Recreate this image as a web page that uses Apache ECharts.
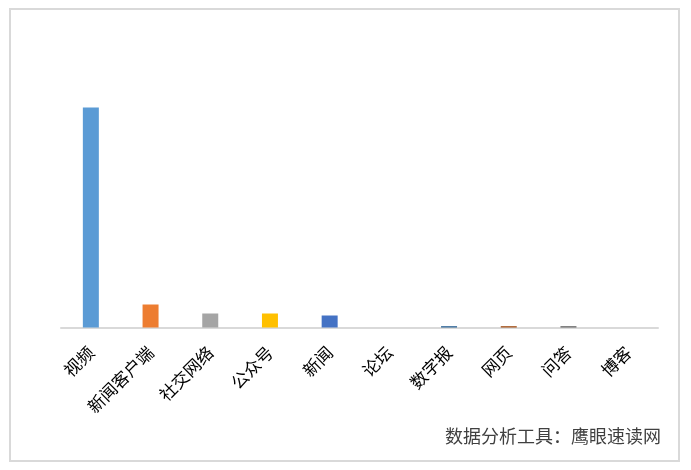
<!DOCTYPE html>
<html>
<head>
<meta charset="utf-8">
<style>html,body{margin:0;padding:0;background:#fff;}#c{width:691px;height:470px;}</style>
<script src="https://cdn.jsdelivr.net/npm/echarts@6/dist/echarts.min.js"></script>
</head>
<body>
<div id="c"></div>
<script>
const categories = ['视频','新闻客户端','社交网络','公众号','新闻','论坛','数字报','网页','问答','博客'];
const values = [220, 23, 14, 14, 12, 0, 1.3, 1.3, 1.3, 0];
const barColors = ['#5B9BD5','#ED7D31','#A5A5A5','#FFC000','#4472C4','#70AD47','#255E91','#9E480E','#636363','#997300'];
const watermark = '数据分析工具：鹰眼速读网';

const chart = echarts.init(document.getElementById('c'));
chart.setOption({
  backgroundColor: '#fff',
  animation: false,
  grid: { left: 61, right: 33, top: 77.5, bottom: 142.5, containLabel: false },
  xAxis: {
    type: 'category',
    data: categories,
    axisLine: { lineStyle: { color: '#D9D9D9', width: 2 } },
    axisTick: { show: false },
    axisLabel: {
      rotate: 45, interval: 0, margin: 22,
      fontSize: 17, color: '#000',
      fontFamily: '"Noto Sans CJK SC", sans-serif'
    }
  },
  yAxis: {
    type: 'value', min: 0, max: 250,
    show: false,
    splitLine: { show: false }
  },
  series: [{
    type: 'bar',
    barWidth: 16,
    data: values.map((v, i) => ({ value: v, itemStyle: { color: barColors[i] } }))
  }],
  graphic: [
    { type: 'rect', shape: { x: 10, y: 9, width: 669, height: 452 },
      style: { fill: null, stroke: '#D9D9D9', lineWidth: 2 }, z: 10 },
    { type: 'text', left: 445, top: 427,
      style: { text: watermark, fontSize: 18, fill: '#404040',
        fontFamily: '"Noto Sans CJK SC", sans-serif' } }
  ]
});
</script>
</body>
</html>
